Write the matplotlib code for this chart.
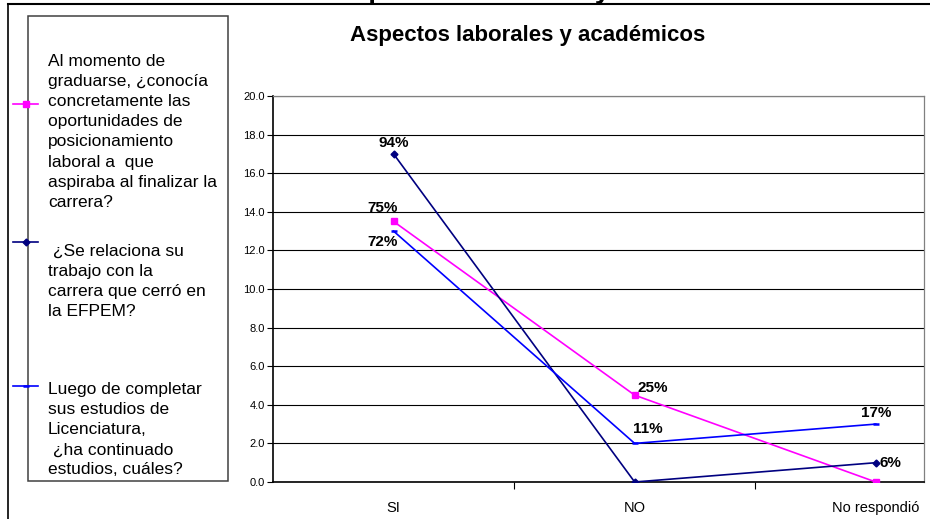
import matplotlib.pyplot as plt
from matplotlib.lines import Line2D
from matplotlib.patches import Rectangle

plt.rcParams['font.family'] = ['Liberation Sans', 'DejaVu Sans']

# Datos: número de egresados por respuesta (total 18)
categorias = ['SI', 'NO', 'No respondió']
total = 18
conocia = [13.5, 4.5, 0]
relaciona = [17, 0, 1]
continuado = [13, 2, 3]

# Qué puntos llevan etiqueta de porcentaje
etiq_conocia = [True, True, False]
etiq_relaciona = [True, False, True]
etiq_continuado = [True, True, True]

textos_leyenda = [
    ['Al momento de', 'graduarse, ¿conocía', 'concretamente las', 'oportunidades de',
     'posicionamiento', 'laboral a  que', 'aspiraba al finalizar la', 'carrera?'],
    [' ¿Se relaciona su', 'trabajo con la', 'carrera que cerró en', 'la EFPEM?'],
    ['Luego de completar', 'sus estudios de', 'Licenciatura,', ' ¿ha continuado',
     'estudios, cuáles?'],
]

titulo = 'Aspectos laborales y académicos'

W, H = 930, 519
fig = plt.figure(figsize=(W / 100, H / 100), dpi=100)


def fx(px):
    return px / W


def fy(py):
    return 1 - py / H


ax = fig.add_axes([fx(273), fy(482), fx(924) - fx(273), fy(96) - fy(482)])

x = range(len(categorias))
estilos = [
    (conocia, etiq_conocia, '#FF00FF', 's', 5, [(-11, 13, 'center'), (3, 7, 'left'), None]),
    (relaciona, etiq_relaciona, '#000080', 'D', 3.5, [(0, 11, 'center'), None, (4, 0, 'left')]),
    (continuado, etiq_continuado, '#0000FF', '_', 5, [(-11, -11, 'center'), (13, 14, 'center'), (0, 11, 'center')]),
]

for valores, mostrar, color, marcador, ms, offs in estilos:
    ax.plot(x, valores, color=color, lw=1.2, marker=marcador, ms=ms,
            mec=color, mfc=color, mew=1.8 if marcador == '_' else 1, zorder=3)
    for i, v in enumerate(valores):
        if not mostrar[i]:
            continue
        dx, dy, ha = offs[i]
        ax.annotate(f'{round(100 * v / total)}%', (i, v), xytext=(dx, dy),
                    textcoords='offset pixels', ha=ha, va='center',
                    fontsize=11, fontweight='bold', color='black', zorder=4)

ax.set_xlim(-0.5, 2.2)
ax.set_ylim(0, 20)
ax.set_yticks(range(0, 21, 2))
ax.set_yticklabels([f'{v:.1f}' for v in range(0, 21, 2)], fontsize=8)
ax.set_xticks(list(x))
ax.set_xticklabels(categorias, fontsize=10.5)
ax.set_xticks([0.5, 1.5], minor=True)
ax.tick_params(axis='x', which='major', length=0, pad=14)
ax.tick_params(axis='x', which='minor', length=5, width=0.8, direction='out')
ax.tick_params(axis='y', length=4, width=0.8, direction='out', pad=2)
ax.grid(axis='y', color='black', lw=0.8)
ax.set_axisbelow(True)
for lado in ['top', 'right']:
    ax.spines[lado].set_color('#808080')
    ax.spines[lado].set_linewidth(0.9)
ax.spines['left'].set_linewidth(1.2)
ax.spines['bottom'].set_linewidth(1.2)

# Título del gráfico y título cortado en el borde superior
fig.text(fx(528), fy(35), titulo, ha='center', va='center',
         fontsize=16, fontweight='bold')
fig.text(fx(555), fy(-2.5), titulo, ha='center', va='baseline',
         fontsize=20, fontweight='bold')

# Marco exterior
fig.add_artist(Line2D([fx(8), 1], [fy(4), fy(4)], color='black', lw=1.5))
fig.add_artist(Line2D([fx(8), fx(8)], [fy(4), 0], color='black', lw=1.2))

# Leyenda a mano
fig.add_artist(Rectangle((fx(28), fy(481)), fx(228) - fx(28), fy(16) - fy(481),
                         fill=False, edgecolor='#404040', lw=1.1))
y_marcas = [104, 242, 386]
inicio_texto = [60, 250, 388]
for (valores, mostrar, color, marcador, ms, offs), ym, y0, lineas in zip(
        estilos, y_marcas, inicio_texto, textos_leyenda):
    fig.add_artist(Line2D([fx(13), fx(38)], [fy(ym), fy(ym)], color=color, lw=1.2))
    fig.add_artist(Line2D([fx(25.5)], [fy(ym)], color=color, marker=marcador, ms=ms,
                          mfc=color, mec=color, mew=1.8 if marcador == '_' else 1, lw=0))
    for k, linea in enumerate(lineas):
        fig.text(fx(48), fy(y0 + k * 20.1), linea, ha='left', va='center_baseline',
                 fontsize=12.5)

fig.savefig('out.png', dpi=100)
